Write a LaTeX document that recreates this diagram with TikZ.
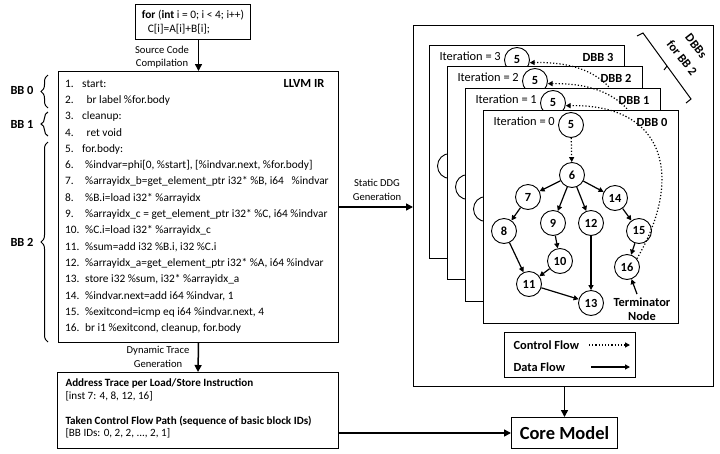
\documentclass[tikz,border=0pt]{standalone}
\usepackage{fontspec}
\setmainfont{Carlito}
\usetikzlibrary{arrows.meta,decorations.pathreplacing,calc}
\newcommand{\fsA}{\fontsize{11.4}{16.3}\selectfont}
\newcommand{\fsI}{\fontsize{11.35}{16.3}\selectfont}
\newcommand{\fsT}{\fontsize{11.1}{13}\selectfont}
\newcommand{\fsB}{\fontsize{12.4}{15}\selectfont}
\newcommand{\fsL}{\fontsize{10.6}{13.5}\selectfont}
\begin{document}
\begin{tikzpicture}[x=1pt,y=-1pt,
  box/.style={draw, line width=1pt, inner sep=0pt},
  arr/.style={-{Triangle[length=7pt,width=7pt]}, line width=1.5pt},
  data/.style={-{Triangle[length=5pt,width=5pt]}, line width=1.2pt},
  ctrl/.style={-{Triangle[length=5pt,width=5pt]}, line width=1.2pt, dotted},
  cnode/.style={circle, draw, line width=0.9pt, minimum size=25pt, inner sep=0pt, fill=white, font=\bfseries\fsB},
  card/.style={draw, fill=white, line width=1pt, minimum width=195pt, minimum height=213pt, anchor=north west, inner sep=0pt},
  brc/.style={decorate, decoration={brace, amplitude=7pt}, line width=1pt},
  lbl/.style={font=\fsL, align=center},
  bb/.style={font=\bfseries\fsB},
]
\fill[white] (0,0) rectangle (720,453);
\useasboundingbox (0,0) rectangle (720,453);

% source code
\node[box, minimum width=115pt, minimum height=35pt, anchor=north west, align=left, font=\fsA] (code) at (135,4)
  {\textbf{for} (\textbf{int} i = 0; i < 4; i++)\\[-2pt]\hspace*{6pt}C[i]=A[i]+B[i];};

% LLVM IR box
\node[box, minimum width=280pt, minimum height=271pt, anchor=north west] (llvm) at (58,71) {};
\node[anchor=north west, inner sep=0pt, font=\fsI] (ir) at (65,75.5) {%
\begin{tabular}{@{}p{17pt}@{}l@{}}
1.&start:\\
2.&\hspace{4.5pt}br label \%for.body\\
3.&cleanup:\\
4.&\hspace{4.5pt}ret void\\
5.&for.body:\\
6.&\hspace{3pt}\%indvar=phi[0, \%start], [\%indvar.next, \%for.body]\\
7.&\hspace{3pt}\%arrayidx\_b=get\_element\_ptr i32* \%B, i64\ \ \ \%indvar\\
8.&\hspace{3pt}\%B.i=load i32* \%arrayidx\\
9.&\hspace{3pt}\%arrayidx\_c = get\_element\_ptr i32* \%C, i64 \%indvar\\
10.&\hspace{3pt}\%C.i=load i32* \%arrayidx\_c\\
11.&\hspace{3pt}\%sum=add i32 \%B.i, i32 \%C.i\\
12.&\hspace{3pt}\%arrayidx\_a=get\_element\_ptr i32* \%A, i64 \%indvar\\
13.&\hspace{3pt}store i32 \%sum, i32* \%arrayidx\_a\\
14.&\hspace{3pt}\%indvar.next=add i64 \%indvar, 1\\
15.&\hspace{3pt}\%exitcond=icmp eq i64 \%indvar.next, 4\\
16.&\hspace{3pt}br i1 \%exitcond, cleanup, for.body
\end{tabular}};
\node[font=\bfseries\fsB] (irlabel) at (304,83) {LLVM IR};

% basic block braces
\coordinate (b0a) at (48,108); \coordinate (b0b) at (48,75);
\coordinate (b1a) at (48,136); \coordinate (b1b) at (48,112);
\coordinate (b2a) at (48,342); \coordinate (b2b) at (48,142);
\draw[brc] (b0a) -- (b0b);
\draw[brc] (b1a) -- (b1b);
\draw[brc] (b2a) -- (b2b);
\node[bb] (bb0) at (22,90) {BB 0};
\node[bb] (bb1) at (22,124) {BB 1};
\node[bb] (bb2) at (22,242) {BB 2};

% arrows + labels on the left
\draw[arr] (code.south -| llvm.north) -- (llvm.north);
\node[lbl] (srclbl) at (162,57) {Source Code\\Compilation};

% outer DDG box
\node[box, minimum width=300pt, minimum height=361pt, anchor=north west] (outer) at (413,25) {};
\draw[arr] (llvm.east) -- (llvm.east -| outer.west);
\node[lbl] (ddglbl) at (377,190) {Static DDG\\Generation};

% back cards
\foreach \k/\L/\T in {3/429/45, 2/447/66, 1/465/88} {
  \begin{scope}[shift={(\L,\T)}]
    \node[card] (card\k) at (0,0) {};
    \node[anchor=west, font=\fsB] (it\k) at (7,11) {Iteration = \k};
    \node[anchor=east, font=\bfseries\fsB] (dbb\k) at (188,12) {DBB \k};
    \node[cnode] (n5-\k) at (88,15) {5};
    \node[cnode] (n8-\k) at (21,121) {8};
    \coordinate (n16-\k) at (157,150);
    \ifnum\k<3
      \pgfmathtruncatemacro{\nx}{\k+1}
      \draw[ctrl] (n16-\k) .. controls (200,70) and (185,-6) .. (n5-\nx.-12);
    \fi
  \end{scope}
}

% front card
\begin{scope}[shift={(483,110)}]
  \node[card] (card0) at (0,0) {};
  \node[anchor=west, font=\fsB] (it0) at (7,11) {Iteration = 0};
  \node[anchor=east, font=\bfseries\fsB] (dbb0) at (188,12) {DBB 0};
  \node[cnode] (n5-0) at (88,15) {5};
  \node[cnode] (n6-0) at (89,65) {6};
  \node[cnode] (n7-0) at (45,87) {7};
  \node[cnode] (n9-0) at (70,113) {9};
  \node[cnode] (n12-0) at (108,113) {12};
  \node[cnode] (n14-0) at (132,88) {14};
  \node[cnode] (n8-0) at (21,121) {8};
  \node[cnode] (n15-0) at (156,121) {15};
  \node[cnode] (n10-0) at (77,151) {10};
  \node[cnode] (n16-0) at (144,157) {16};
  \node[cnode] (n11-0) at (46,174) {11};
  \node[cnode] (n13-0) at (108,193) {13};
  \node[font=\bfseries\fsB, align=center] (term) at (159,199) {Terminator\\[-1pt]Node};
  \draw[ctrl] (n5-0) -- (n6-0);
  \foreach \a/\b in {6/7, 6/9, 6/12, 6/14, 7/8, 9/10, 8/11, 10/11, 11/13, 12/13, 14/15, 15/16}
    \draw[data] (n\a-0) -- (n\b-0);
  \draw[data] ([xshift=-5pt]term.north) -- (n16-0);
  \draw[ctrl] (n16-0.40) .. controls (200,70) and (185,-6) .. (n5-1.-12);
\end{scope}

% DBBs for BB 2 bracket
\coordinate (br1) at (637,36); \coordinate (br2) at (643,33);
\coordinate (br3) at (691,99); \coordinate (br4) at (686,103);
\coordinate (brm) at (667,66); \coordinate (brt) at (664,70);
\draw[line width=1pt] (br1) -- (br2) -- (br3) -- (br4);
\draw[line width=1pt] (brm) -- (brt);
\node[font=\bfseries\fsB, rotate=-52] (dbbsa) at (696,46) {DBBs};
\node[font=\bfseries\fsB, rotate=-52] (dbbsb) at (682,58) {for BB 2};

% legend
\node[box, minimum width=131pt, minimum height=45pt, anchor=north west] (legend) at (504,332) {};
\node[anchor=west, font=\bfseries\fsB] (lgc) at (510,345) {Control Flow};
\node[anchor=west, font=\bfseries\fsB] (lgd) at (510,367) {Data Flow};
\coordinate (lc1) at (589,345); \coordinate (lc2) at (630,345);
\coordinate (ld1) at (591,367); \coordinate (ld2) at (630,367);
\draw[ctrl] (lc1) -- (lc2);
\draw[data] (ld1) -- (ld2);

% trace box
\node[box, minimum width=281pt, minimum height=76pt, anchor=north west] (trace) at (57,372) {};
\node[anchor=west, font=\bfseries\fsT] (t1) at (62,383) {Address Trace per Load/Store Instruction};
\node[anchor=west, font=\fsT] (t2) at (62,396) {[inst 7: 4, 8, 12, 16]};
\node[anchor=west, font=\bfseries\fsT] (t3) at (62,421) {Taken Control Flow Path (sequence of basic block IDs)};
\node[anchor=west, font=\fsT] (t4) at (62,433) {[BB IDs: 0, 2, 2, ..., 2, 1]};
\draw[arr] (llvm.south) -- (trace.north);
\node[lbl] (dynlbl) at (158,357) {Dynamic Trace\\Generation};

% core model
\node[box, minimum width=106pt, minimum height=31pt, anchor=north west, font=\bfseries\fontsize{18.5}{20}\selectfont] (core) at (511,417) {Core Model};
\draw[arr] (outer.south -| core.north) -- (core.north);
\draw[arr] (core.west -| trace.east) -- (core.west);
\end{tikzpicture}
\end{document}
